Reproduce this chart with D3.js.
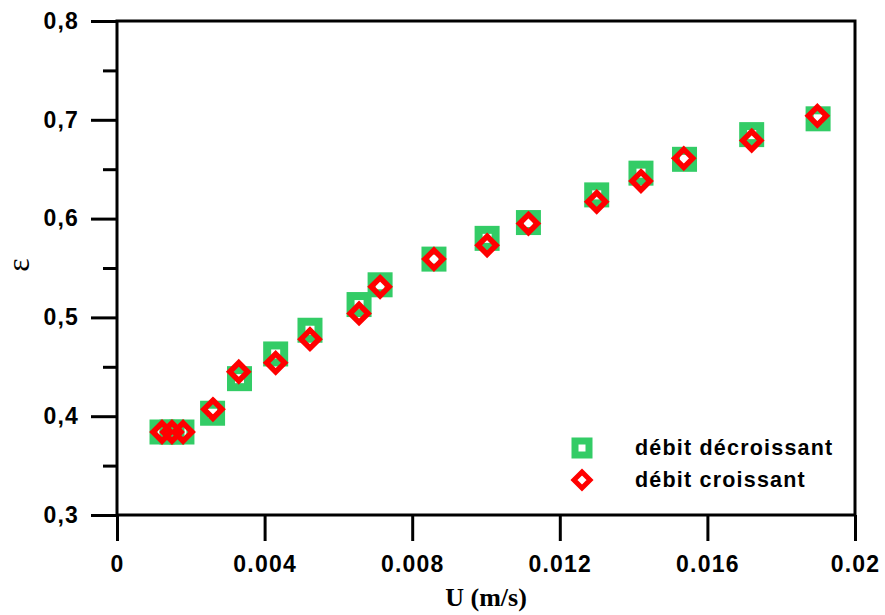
<!DOCTYPE html>
<html>
<head>
<meta charset="utf-8">
<script src="https://cdn.jsdelivr.net/npm/d3@7"></script>
<style>
  body { margin: 0; background: #fff; }
</style>
</head>
<body>
<div class="chart"></div>
<script>
// values
const uDecr = [0.00122, 0.00149, 0.00176, 0.00259, 0.00332, 0.0043, 0.00523, 0.00656, 0.00713, 0.00859, 0.01003, 0.01115, 0.013, 0.0142, 0.01538, 0.0172, 0.019];
const epsDecr = [0.384, 0.384, 0.384, 0.403, 0.438, 0.463, 0.487, 0.513, 0.533, 0.559, 0.580, 0.596, 0.624, 0.646, 0.660, 0.685, 0.701];
const uIncr = [0.00122, 0.00149, 0.00179, 0.0026, 0.0033, 0.0043, 0.00523, 0.00656, 0.00713, 0.00859, 0.01003, 0.01115, 0.013, 0.0142, 0.01536, 0.0172, 0.01898];
const epsIncr = [0.384, 0.384, 0.384, 0.407, 0.445, 0.454, 0.478, 0.504, 0.531, 0.559, 0.573, 0.595, 0.617, 0.638, 0.661, 0.679, 0.704];
const xTicks = [0, 0.004, 0.008, 0.012, 0.016, 0.02];
const xTickLabels = ['0', '0.004', '0.008', '0.012', '0.016', '0.02'];
const yTicks = [0.3, 0.4, 0.5, 0.6, 0.7, 0.8];
const yTickLabels = ['0,3', '0,4', '0,5', '0,6', '0,7', '0,8'];
const yMinorTicks = [0.35, 0.45, 0.55, 0.65, 0.75];
const seriesNames = ['débit décroissant', 'débit croissant'];

const width = 885;
const height = 615;
const plotLeft = 117, plotRight = 855, plotTop = 21, plotBottom = 515;

const svg = d3
  .select('.chart')
  .append('svg')
  .attr('width', width)
  .attr('height', height);

const x = d3.scaleLinear().domain([0, 0.02]).range([plotLeft, plotRight]);
const y = d3.scaleLinear().domain([0.3, 0.8]).range([plotBottom, plotTop]);

const labelFont = 'Liberation Sans, Arial, sans-serif';

// x axis
const xAxis = svg
  .append('g')
  .attr('transform', `translate(0,${plotBottom})`)
  .call(
    d3.axisBottom(x)
      .tickValues(xTicks)
      .tickSize(26)
      .tickPadding(15)
      .tickFormat((d, i) => xTickLabels[i])
  );
xAxis.select('.domain').remove();
xAxis.selectAll('line').attr('stroke', '#000').attr('stroke-width', 3);
xAxis.selectAll('text')
  .attr('font-family', labelFont)
  .attr('font-weight', 'bold')
  .attr('font-size', 23)
  .attr('letter-spacing', 1.2)
  .attr('fill', '#000');

// y axis
const yAxis = svg
  .append('g')
  .attr('transform', `translate(${plotLeft},0)`)
  .call(
    d3.axisLeft(y)
      .tickValues(yTicks)
      .tickSize(26)
      .tickPadding(12)
      .tickFormat((d, i) => yTickLabels[i])
  );
yAxis.select('.domain').remove();
yAxis.selectAll('line').attr('stroke', '#000').attr('stroke-width', 3);
yAxis.selectAll('text')
  .attr('font-family', labelFont)
  .attr('font-weight', 'bold')
  .attr('font-size', 23)
  .attr('letter-spacing', 1.2)
  .attr('fill', '#000');

// minor y ticks
const yMinor = svg
  .append('g')
  .attr('transform', `translate(${plotLeft},0)`)
  .call(d3.axisLeft(y).tickValues(yMinorTicks).tickSize(14).tickFormat(''));
yMinor.select('.domain').remove();
yMinor.selectAll('line').attr('stroke', '#000').attr('stroke-width', 3);

// frame
svg
  .append('rect')
  .attr('x', plotLeft)
  .attr('y', plotTop)
  .attr('width', plotRight - plotLeft)
  .attr('height', plotBottom - plotTop)
  .attr('fill', 'none')
  .attr('stroke', '#000')
  .attr('stroke-width', 3);

// axis titles
svg
  .append('text')
  .attr('x', 486)
  .attr('y', 606)
  .attr('text-anchor', 'middle')
  .attr('font-family', 'Liberation Serif, Times New Roman, serif')
  .attr('font-weight', 'bold')
  .attr('font-size', 26)
  .text('U (m/s)');

svg
  .append('text')
  .attr('transform', 'translate(29,265) rotate(-90)')
  .attr('text-anchor', 'middle')
  .attr('font-family', 'Liberation Serif, Times New Roman, serif')
  .attr('font-size', 32)
  .text('ε');

const diamond = (cx, cy, r) =>
  `M${cx},${cy - r}L${cx + r},${cy}L${cx},${cy + r}L${cx - r},${cy}Z`;

// débit décroissant: hollow green squares
svg
  .append('g')
  .selectAll('rect')
  .data(uDecr)
  .enter()
  .append('rect')
  .attr('x', (d) => x(d) - 8.5)
  .attr('y', (d, i) => y(epsDecr[i]) - 8.5)
  .attr('width', 17)
  .attr('height', 17)
  .attr('fill', 'none')
  .attr('stroke', '#33cc66')
  .attr('stroke-width', 8);

// débit croissant: hollow red diamonds
svg
  .append('g')
  .selectAll('path')
  .data(uIncr)
  .enter()
  .append('path')
  .attr('d', (d, i) => diamond(x(d), y(epsIncr[i]), 9))
  .attr('fill', 'none')
  .attr('stroke', '#ff0000')
  .attr('stroke-width', 5.5)
  .attr('stroke-linejoin', 'miter');

// legend
const legend = svg.append('g');
legend
  .append('rect')
  .attr('x', 582 - 7)
  .attr('y', 448 - 7)
  .attr('width', 14)
  .attr('height', 14)
  .attr('fill', 'none')
  .attr('stroke', '#33cc66')
  .attr('stroke-width', 7);
legend
  .append('path')
  .attr('d', diamond(582, 480, 8))
  .attr('fill', 'none')
  .attr('stroke', '#ff0000')
  .attr('stroke-width', 5);

legend
  .selectAll('text')
  .data(seriesNames)
  .enter()
  .append('text')
  .attr('x', 635)
  .attr('y', (d, i) => 455 + i * 32)
  .attr('font-family', labelFont)
  .attr('font-weight', 'bold')
  .attr('font-size', 21.5)
  .attr('letter-spacing', 1.2)
  .text((d) => d);
</script>
</body>
</html>
